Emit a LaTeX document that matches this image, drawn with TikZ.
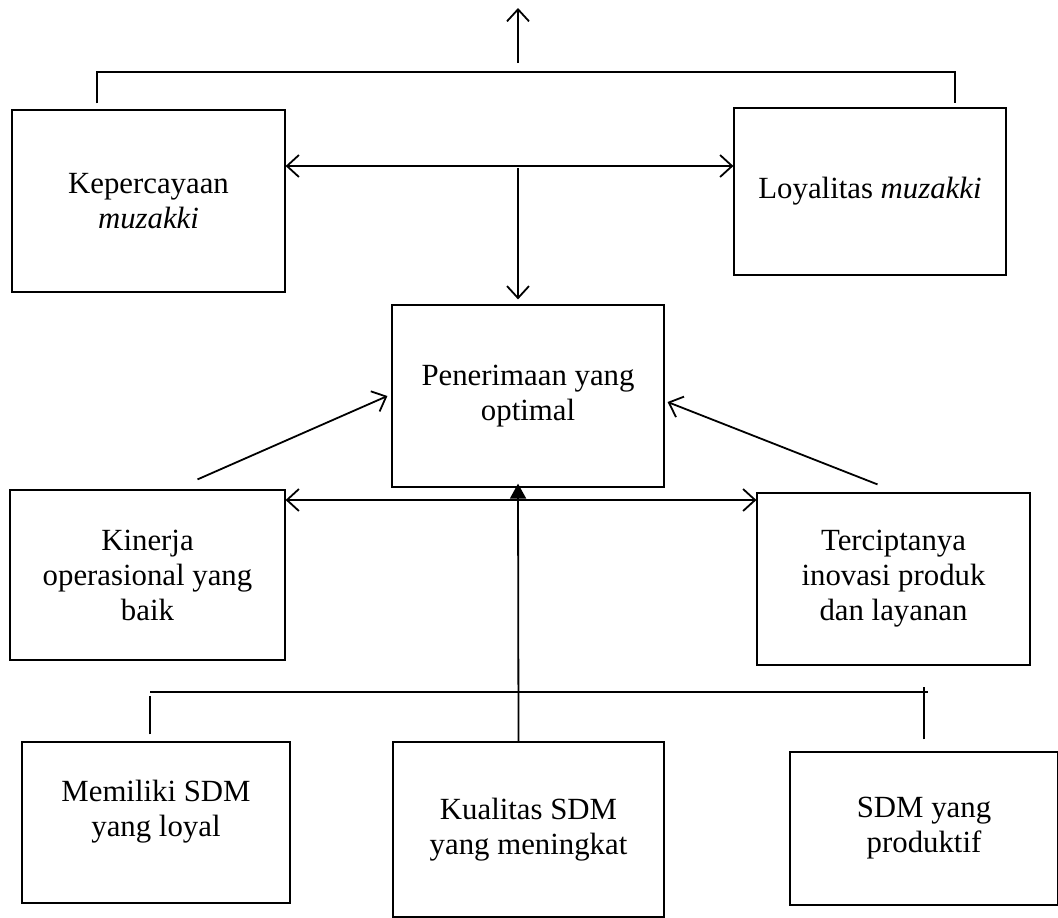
\documentclass[tikz,border=0pt]{standalone}
\usepackage{fontspec}
\setmainfont{Liberation Serif}
\usetikzlibrary{arrows.meta,calc}
\begin{document}
\begin{tikzpicture}[x=0.5pt,y=-0.5pt]
\tikzstyle{box} = [rectangle, draw=black, line width=0.6pt, align=center, font=\fontsize{15.4}{17.5}\selectfont, inner sep=2pt]
\tikzstyle{line} = [line width=0.9pt]
\tikzstyle{arr} = [line, -{Straight Barb[length=6pt,width=11pt]}]
\tikzstyle{dbl} = [line, {Straight Barb[length=6pt,width=11pt]}-{Straight Barb[length=6pt,width=11pt]}]
\useasboundingbox (0,0) rectangle (1058,917);
% boxes
\node (kep)[box, minimum width=136.5pt, minimum height=91pt] at (148.5,201) {Kepercayaan\\\textit{muzakki}};
\node (loy)[box, minimum width=136pt, minimum height=83.5pt] at (870,191.5) {Loyalitas \textit{muzakki}};
\node (pen)[box, minimum width=136pt, minimum height=91pt] at (528,396) {Penerimaan yang\\optimal};
\node (kin)[box, minimum width=137.5pt, minimum height=85pt] at (147.5,575) {Kinerja\\operasional yang\\baik};
\node (ter)[box, minimum width=136.5pt, minimum height=86pt] at (893.5,579) {Terciptanya\\inovasi produk\\dan layanan};
\node (mem)[box, minimum width=134pt, minimum height=80.5pt, text depth=14pt] at (156,822.5) {Memiliki SDM\\yang loyal};
\node (kua)[box, minimum width=135.5pt, minimum height=87.5pt] at (528.5,829.5) {Kualitas SDM\\yang meningkat};
\node (sdm)[box, minimum width=134pt, minimum height=76.5pt] at (924,828.5) {SDM yang\\produktif};
% top bracket
\coordinate (tl) at ([xshift=-25.75pt,yshift=3pt]kep.north);
\coordinate (tr) at ([xshift=42.5pt,yshift=2pt]loy.north);
\coordinate (tbar) at (518,72);
\coordinate (tup) at (518,8);
\draw [line] (tl) |- (tbar) -| (tr);
\draw [arr] ([yshift=4.5pt]tbar) -- (tup);
% links between the boxes
\draw [dbl] ([yshift=17.5pt]kep.east) -- ([yshift=17.5pt]kep.east -| loy.west);
\coordinate (mid) at (518,168);
\draw [arr] (mid) -- ([xshift=-5pt,yshift=2.5pt]pen.north);
\draw [arr] ([xshift=25pt,yshift=5pt]kin.north) -- ([xshift=-2pt]pen.west);
\draw [arr] ([xshift=-8pt,yshift=4pt]ter.north) -- ([xshift=1.5pt,yshift=-3pt]pen.east);
\draw [dbl] ([yshift=37.5pt]kin.east) -- ([yshift=37.5pt]kin.east -| ter.west);
\draw [line, -{Triangle[length=7.5pt,width=8pt]}] ([xshift=-5pt]kua.north) -- ([xshift=-5pt,yshift=2pt]pen.south);
% bottom bracket
\coordinate (bl) at (150,692);
\coordinate (br) at (928,692);
\draw [line] (bl) -- (br);
\draw [line] ([xshift=-3pt,yshift=3.5pt]mem.north) -- ([xshift=-3pt,yshift=22.5pt]mem.north);
\draw [line] ([yshift=6pt]sdm.north) -- ([yshift=32pt]sdm.north);
\end{tikzpicture}
\end{document}
